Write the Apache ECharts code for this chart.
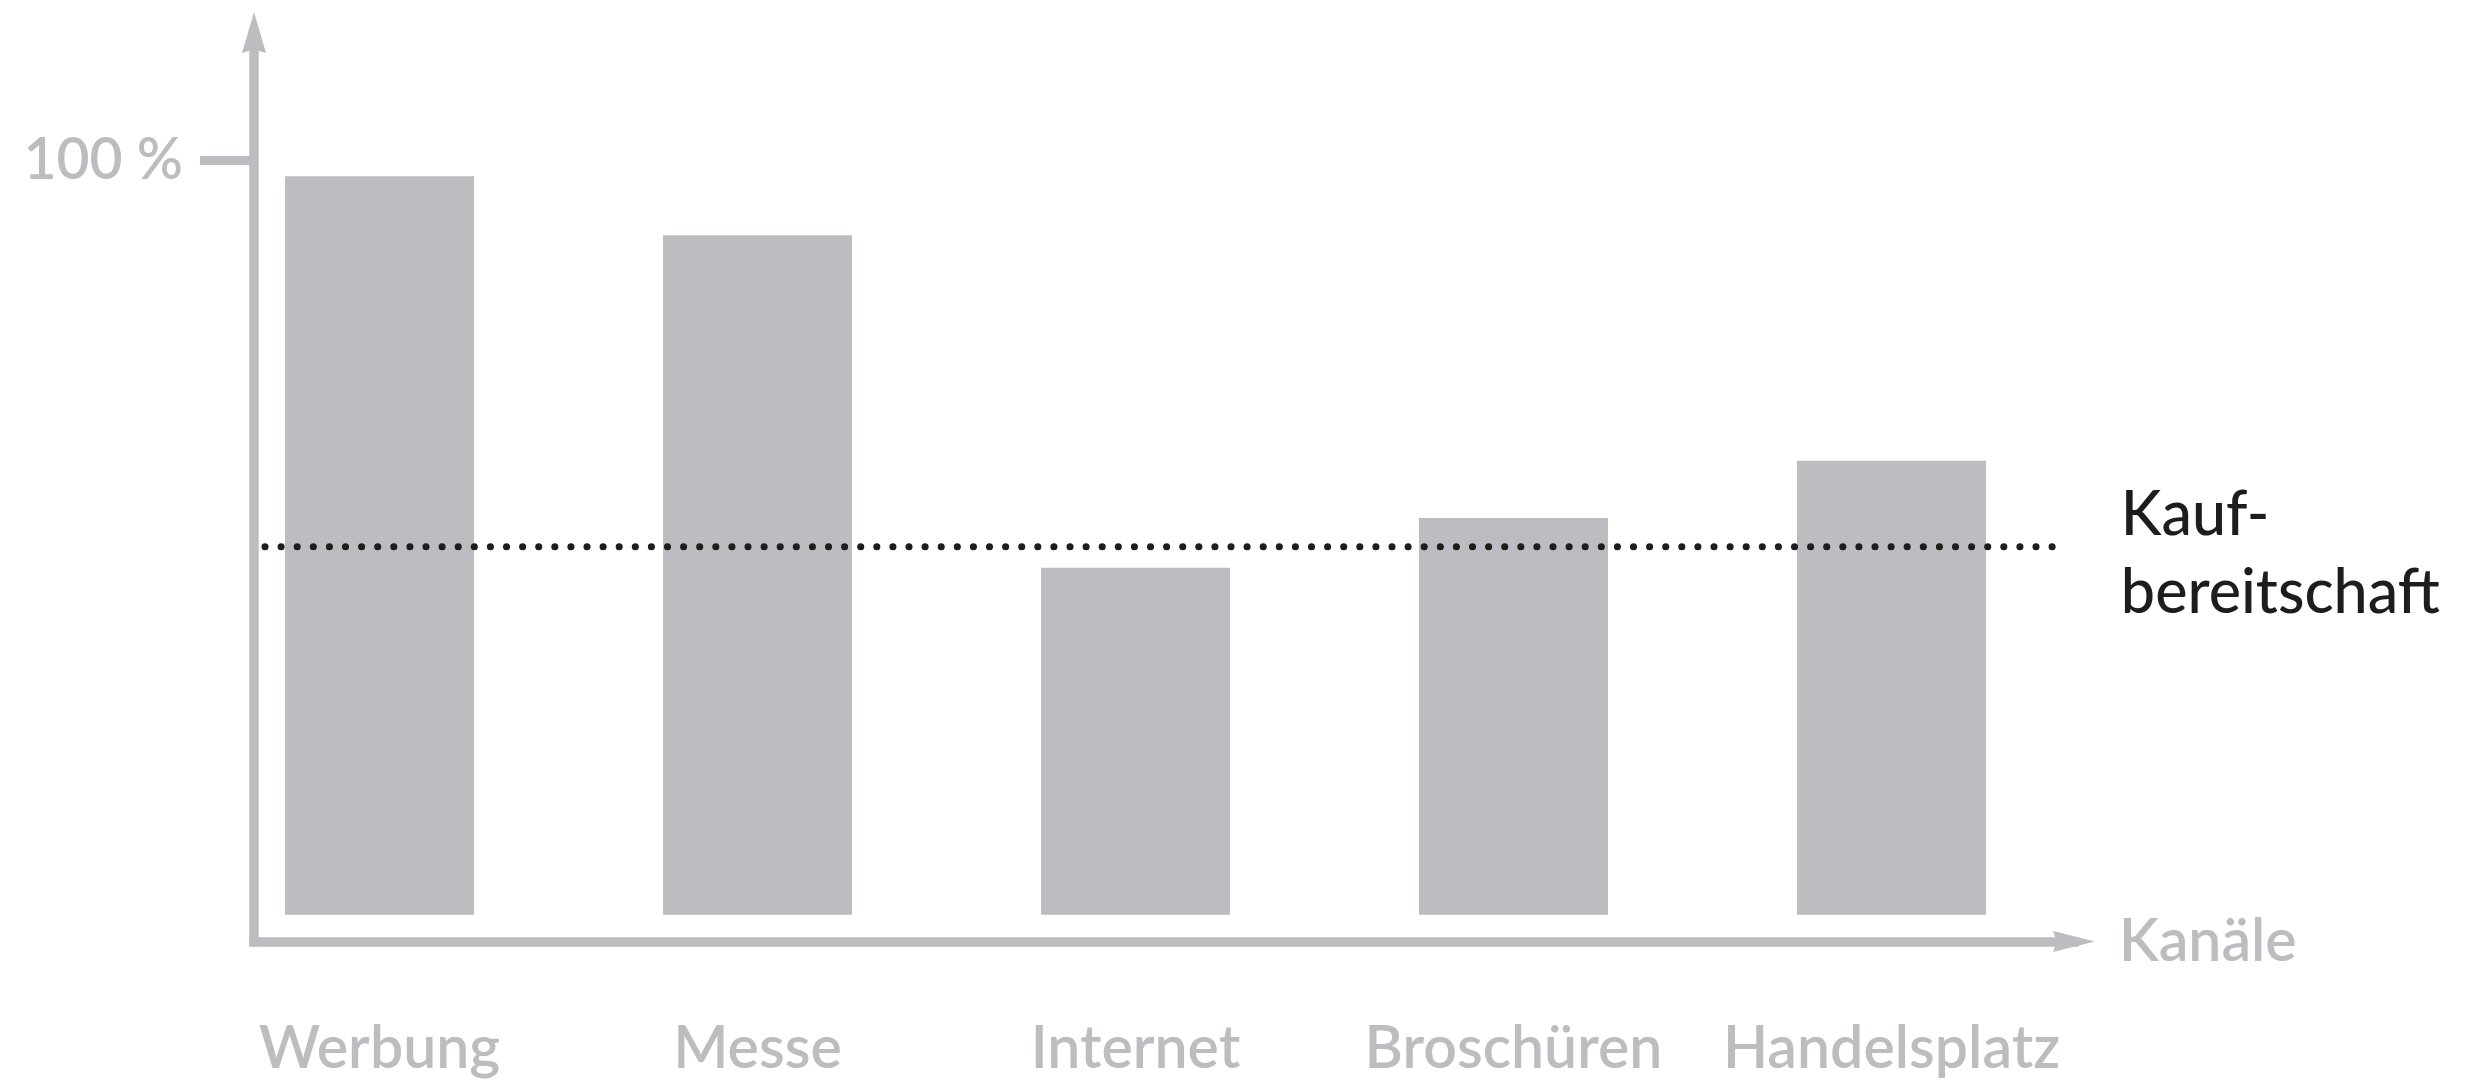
<!DOCTYPE html>
<html>
<head>
<meta charset="utf-8">
<script src="https://cdn.jsdelivr.net/npm/echarts@6/dist/echarts.min.js"></script>
<style>
  html, body { margin: 0; padding: 0; background: #ffffff; }
  #chart { width: 2467px; height: 1082px; }
</style>
</head>
<body>
<div id="chart"></div>
<script>
// ---- data ----
const categories = ['Werbung', 'Messe', 'Internet', 'Broschüren', 'Handelsplatz'];
const values = [97.9, 90.1, 46.0, 52.6, 60.2];          // % per channel
const thresholdValue = 48.8;                           // Kaufbereitschaft (dotted line)
const thresholdLabel = 'Kauf-\nbereitschaft';
const yTickValues = [100];
const xAxisName = 'Kanäle';

// ---- build ----
const GRAY = '#bcbdc1';
const BLACK = '#1d1d1b';
const FONT = 'Lato';
const ARROW_Y = 'path://M12,0 L24,41 L12,37.5 L0,41 Z';
const ARROW_X = 'path://M10.5,0 L21,42 L10.5,38.5 L0,42 Z';

const barData = values.map((v, i) => [i, v]);
const lineData = [[-0.303, thresholdValue], [4.456, thresholdValue]];

const chart = echarts.init(document.getElementById('chart'), null, { renderer: 'canvas' });
chart.setOption({
  backgroundColor: '#ffffff',
  animation: false,
  grid: { left: 254, right: 393, top: 32.5, bottom: 140.5, containLabel: false },
  xAxis: {
    type: 'value',
    min: -0.332,
    max: 4.4828,
    name: xAxisName,
    nameLocation: 'end',
    nameGap: 45,
    nameTextStyle: { color: GRAY, fontFamily: FONT, fontSize: 59, fontWeight: 600, verticalAlign: 'middle' },
    axisLine: {
      show: true,
      onZero: false,
      symbol: ['none', ARROW_X],
      symbolSize: [21, 42],
      lineStyle: { color: GRAY, width: 9.5, cap: 'square' }
    },
    axisTick: { show: false },
    splitLine: { show: false },
    axisLabel: {
      customValues: categories.map((c, i) => i),
      formatter: function (v) { return categories[Math.round(v)]; },
      color: GRAY,
      fontFamily: FONT,
      fontSize: 59,
      fontWeight: 600,
      margin: 78
    }
  },
  yAxis: {
    type: 'value',
    min: -3.553,
    max: 116.97,
    axisLine: {
      show: true,
      onZero: false,
      symbol: ['none', ARROW_Y],
      symbolSize: [24, 41],
      lineStyle: { color: GRAY, width: 9.5, cap: 'square' }
    },
    axisTick: {
      show: true,
      customValues: yTickValues,
      length: 54,
      lineStyle: { color: GRAY, width: 9 }
    },
    splitLine: { show: false },
    axisLabel: {
      customValues: yTickValues,
      formatter: '{value} %',
      color: GRAY,
      fontFamily: FONT,
      fontSize: 57,
      fontWeight: 600,
      margin: 71
    }
  },
  series: [
    {
      type: 'bar',
      data: barData,
      barWidth: 189,
      itemStyle: { color: GRAY },
      z: 2
    },
    {
      type: 'line',
      data: lineData,
      symbol: 'none',
      z: 5,
      lineStyle: { color: BLACK, width: 7, type: [0.1, 16], cap: 'round' },
      endLabel: {
        show: true,
        formatter: thresholdLabel,
        color: BLACK,
        fontFamily: FONT,
        fontSize: 61,
        fontWeight: 500,
        lineHeight: 78,
        distance: 57,
        offset: [0, 8],
        align: 'left'
      }
    }
  ]
});
</script>
</body>
</html>
